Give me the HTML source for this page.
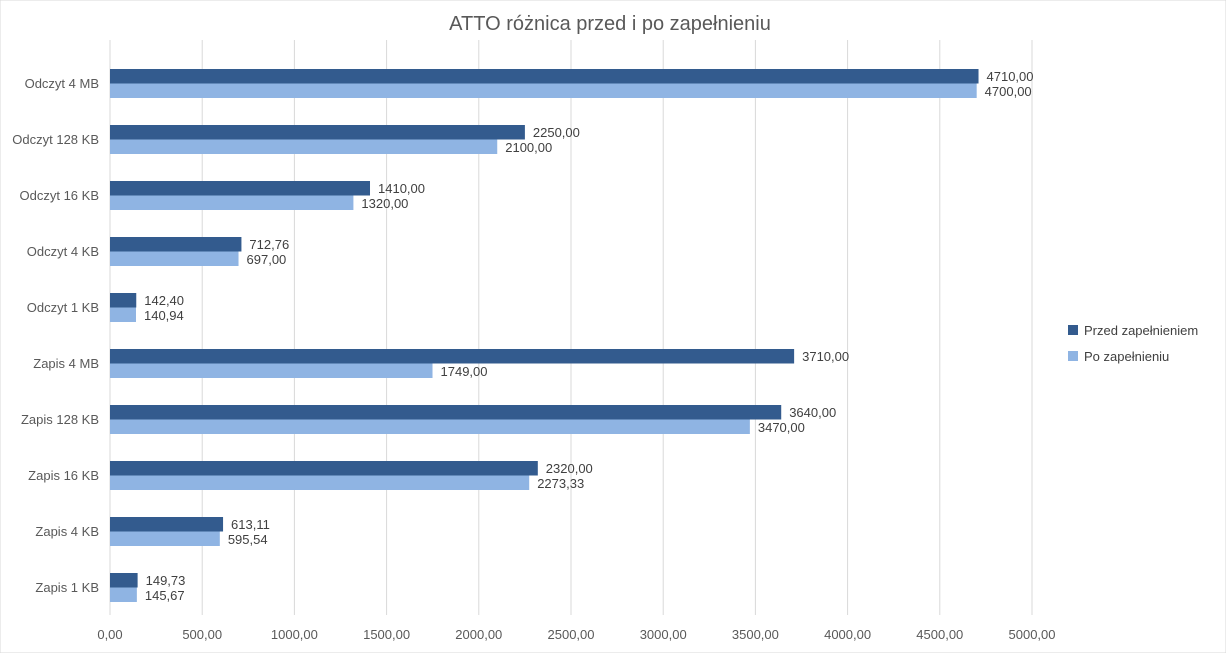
<!DOCTYPE html>
<html><head><meta charset="utf-8">
<style>
body{margin:0;background:#fff;font-family:"Liberation Sans",sans-serif;}
svg text{font-family:"Liberation Sans",sans-serif;}
</style></head>
<body>
<svg id="chart" width="1226" height="653" viewBox="0 0 1226 653" xmlns="http://www.w3.org/2000/svg">
<rect width="1226" height="653" fill="#fff" stroke="#d9d9d9"/>
<text x="610" y="30" text-anchor="middle" font-size="20" fill="#595959">ATTO różnica przed i po zapełnieniu</text>
<g id="grid"></g><g id="bars"></g><g id="labels"></g>
<g>
<rect x="1068" y="325" width="10" height="10" fill="#335b8e"/>
<text x="1084" y="335" font-size="13" fill="#404040">Przed zapełnieniem</text>
<rect x="1068" y="351" width="10" height="10" fill="#8fb4e3"/>
<text x="1084" y="361" font-size="13" fill="#404040">Po zapełnieniu</text>
</g>
</svg>
<script>
const categories=["Odczyt 4 MB","Odczyt 128 KB","Odczyt 16 KB","Odczyt 4 KB","Odczyt 1 KB","Zapis 4 MB","Zapis 128 KB","Zapis 16 KB","Zapis 4 KB","Zapis 1 KB"];
const przed=[4710,2250,1410,712.76,142.40,3710,3640,2320,613.11,149.73];
const po=[4700,2100,1320,697,140.94,1749,3470,2273.33,595.54,145.67];
const ticks=[0,500,1000,1500,2000,2500,3000,3500,4000,4500,5000];
const NS="http://www.w3.org/2000/svg";
const x0=110,x1=1032,plotTop=55,band=56;
const xs=v=>x0+v/5000*(x1-x0);
const ys=i=>plotTop+band*i;
const fmt=v=>v.toFixed(2).replace('.',',');
function mk(tag,attrs,parent,txt){const e=document.createElementNS(NS,tag);for(const k in attrs)e.setAttribute(k,attrs[k]);if(txt!==undefined)e.textContent=txt;document.getElementById(parent).appendChild(e);return e;}
ticks.forEach(t=>{
 const l=mk('line',{x1:xs(t),x2:xs(t),y1:40,y2:615,stroke:'#d9d9d9','stroke-width':1},'grid');
 
 
 const tx=mk('text',{x:xs(t),y:639,'text-anchor':'middle','font-size':13,fill:'#595959'},'labels',fmt(t));
 
 
});
categories.forEach((c,i)=>{
 const y=ys(i);
 const cl=mk('text',{x:99,y:y+33,'text-anchor':'end','font-size':13,fill:'#595959'},'labels',c);
 
 
 const b1=mk('rect',{x:x0,y:y+14,width:xs(przed[i])-x0,height:14.5,fill:'#335b8e'},'bars');
 
 
 const b2=mk('rect',{x:x0,y:y+28.5,width:xs(po[i])-x0,height:14.5,fill:'#8fb4e3'},'bars');
 
 
 const l1=mk('text',{x:xs(przed[i])+8,y:y+26,'font-size':13,fill:'#404040'},'labels',fmt(przed[i]));
 
 
 const l2=mk('text',{x:xs(po[i])+8,y:y+41,'font-size':13,fill:'#404040'},'labels',fmt(po[i]));
 
 
});
</script>
</body></html>
